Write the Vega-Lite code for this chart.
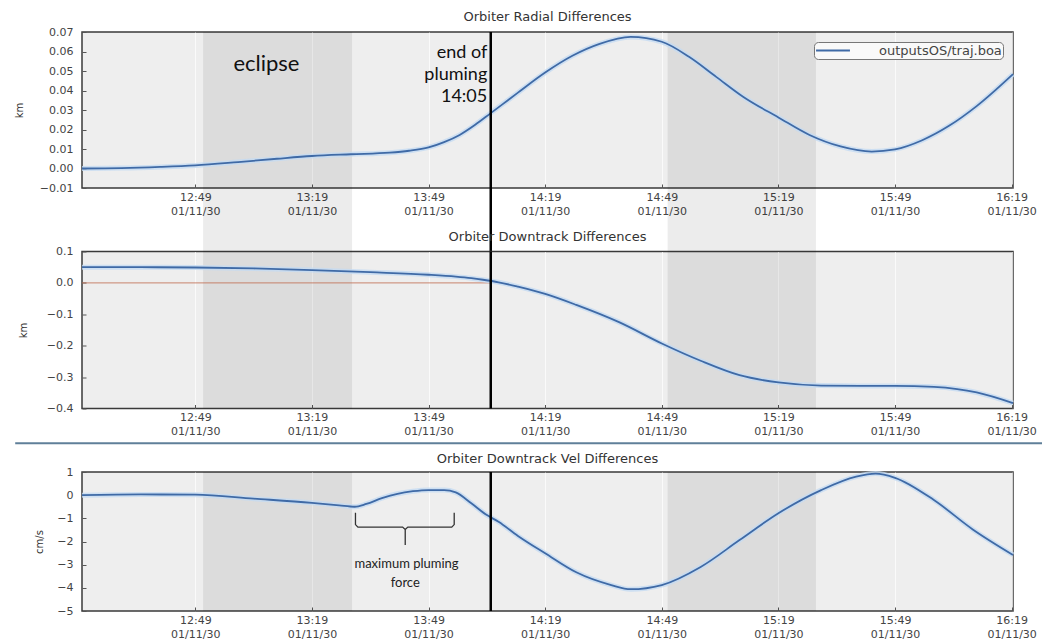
{
  "$schema": "https://vega.github.io/schema/vega-lite/v6.json",
  "padding": {"left": 13, "top": 10, "right": 0, "bottom": 0},
  "spacing": 63.5,
  "bounds": "flush",
  "datasets": {
    "radial": [
      {"t": "2030-01-11T12:19:51Z", "km": 0.0},
      {"t": "2030-01-11T12:30:00Z", "km": 0.0002},
      {"t": "2030-01-11T12:40:00Z", "km": 0.0008},
      {"t": "2030-01-11T12:49:00Z", "km": 0.0016},
      {"t": "2030-01-11T13:00:00Z", "km": 0.0033},
      {"t": "2030-01-11T13:10:00Z", "km": 0.005},
      {"t": "2030-01-11T13:19:00Z", "km": 0.0064},
      {"t": "2030-01-11T13:29:00Z", "km": 0.0073},
      {"t": "2030-01-11T13:39:00Z", "km": 0.0081},
      {"t": "2030-01-11T13:44:00Z", "km": 0.0091},
      {"t": "2030-01-11T13:49:00Z", "km": 0.0108},
      {"t": "2030-01-11T13:53:00Z", "km": 0.0135},
      {"t": "2030-01-11T13:57:00Z", "km": 0.0172},
      {"t": "2030-01-11T14:01:00Z", "km": 0.0224},
      {"t": "2030-01-11T14:05:00Z", "km": 0.0284},
      {"t": "2030-01-11T14:08:00Z", "km": 0.0329},
      {"t": "2030-01-11T14:12:00Z", "km": 0.0389},
      {"t": "2030-01-11T14:19:00Z", "km": 0.0492},
      {"t": "2030-01-11T14:26:00Z", "km": 0.0578},
      {"t": "2030-01-11T14:33:00Z", "km": 0.0639},
      {"t": "2030-01-11T14:41:00Z", "km": 0.0675},
      {"t": "2030-01-11T14:49:00Z", "km": 0.065},
      {"t": "2030-01-11T14:56:00Z", "km": 0.0573},
      {"t": "2030-01-11T15:03:00Z", "km": 0.047},
      {"t": "2030-01-11T15:10:00Z", "km": 0.0367},
      {"t": "2030-01-11T15:19:00Z", "km": 0.0262},
      {"t": "2030-01-11T15:27:00Z", "km": 0.0172},
      {"t": "2030-01-11T15:35:00Z", "km": 0.0113},
      {"t": "2030-01-11T15:43:00Z", "km": 0.0087},
      {"t": "2030-01-11T15:49:00Z", "km": 0.0098},
      {"t": "2030-01-11T15:56:00Z", "km": 0.0145},
      {"t": "2030-01-11T16:03:00Z", "km": 0.022},
      {"t": "2030-01-11T16:10:00Z", "km": 0.032},
      {"t": "2030-01-11T16:19:21Z", "km": 0.0484}
    ],
    "downtrack": [
      {"t": "2030-01-11T12:19:51Z", "km": 0.05},
      {"t": "2030-01-11T12:35:00Z", "km": 0.05},
      {"t": "2030-01-11T12:49:00Z", "km": 0.049},
      {"t": "2030-01-11T13:04:00Z", "km": 0.046},
      {"t": "2030-01-11T13:19:00Z", "km": 0.041},
      {"t": "2030-01-11T13:34:00Z", "km": 0.034},
      {"t": "2030-01-11T13:49:00Z", "km": 0.026},
      {"t": "2030-01-11T13:56:00Z", "km": 0.02},
      {"t": "2030-01-11T14:00:00Z", "km": 0.015},
      {"t": "2030-01-11T14:03:00Z", "km": 0.01},
      {"t": "2030-01-11T14:07:00Z", "km": 0.002},
      {"t": "2030-01-11T14:12:00Z", "km": -0.012},
      {"t": "2030-01-11T14:19:00Z", "km": -0.035},
      {"t": "2030-01-11T14:27:00Z", "km": -0.07},
      {"t": "2030-01-11T14:38:00Z", "km": -0.125},
      {"t": "2030-01-11T14:49:00Z", "km": -0.193},
      {"t": "2030-01-11T14:59:00Z", "km": -0.248},
      {"t": "2030-01-11T15:09:00Z", "km": -0.294},
      {"t": "2030-01-11T15:19:00Z", "km": -0.317},
      {"t": "2030-01-11T15:30:00Z", "km": -0.327},
      {"t": "2030-01-11T15:40:00Z", "km": -0.328},
      {"t": "2030-01-11T15:49:00Z", "km": -0.328},
      {"t": "2030-01-11T15:59:00Z", "km": -0.331},
      {"t": "2030-01-11T16:05:00Z", "km": -0.338},
      {"t": "2030-01-11T16:10:00Z", "km": -0.349},
      {"t": "2030-01-11T16:19:21Z", "km": -0.383}
    ],
    "vel": [
      {"t": "2030-01-11T12:19:51Z", "cms": 0.0},
      {"t": "2030-01-11T12:35:00Z", "cms": 0.03},
      {"t": "2030-01-11T12:49:00Z", "cms": 0.02},
      {"t": "2030-01-11T13:04:00Z", "cms": -0.15},
      {"t": "2030-01-11T13:19:00Z", "cms": -0.33},
      {"t": "2030-01-11T13:26:00Z", "cms": -0.44},
      {"t": "2030-01-11T13:30:00Z", "cms": -0.5},
      {"t": "2030-01-11T13:33:00Z", "cms": -0.38},
      {"t": "2030-01-11T13:37:00Z", "cms": -0.13},
      {"t": "2030-01-11T13:41:00Z", "cms": 0.06},
      {"t": "2030-01-11T13:45:00Z", "cms": 0.17},
      {"t": "2030-01-11T13:49:00Z", "cms": 0.22},
      {"t": "2030-01-11T13:53:00Z", "cms": 0.22},
      {"t": "2030-01-11T13:56:00Z", "cms": 0.12},
      {"t": "2030-01-11T14:00:00Z", "cms": -0.35},
      {"t": "2030-01-11T14:04:00Z", "cms": -0.86},
      {"t": "2030-01-11T14:07:00Z", "cms": -1.15},
      {"t": "2030-01-11T14:12:00Z", "cms": -1.76},
      {"t": "2030-01-11T14:19:00Z", "cms": -2.51},
      {"t": "2030-01-11T14:27:00Z", "cms": -3.33},
      {"t": "2030-01-11T14:36:00Z", "cms": -3.88},
      {"t": "2030-01-11T14:41:00Z", "cms": -4.06},
      {"t": "2030-01-11T14:49:00Z", "cms": -3.88},
      {"t": "2030-01-11T14:59:00Z", "cms": -3.1},
      {"t": "2030-01-11T15:09:00Z", "cms": -1.94},
      {"t": "2030-01-11T15:19:00Z", "cms": -0.78},
      {"t": "2030-01-11T15:30:00Z", "cms": 0.22},
      {"t": "2030-01-11T15:39:00Z", "cms": 0.8},
      {"t": "2030-01-11T15:44:00Z", "cms": 0.93},
      {"t": "2030-01-11T15:49:00Z", "cms": 0.75},
      {"t": "2030-01-11T15:59:00Z", "cms": -0.21},
      {"t": "2030-01-11T16:09:00Z", "cms": -1.48},
      {"t": "2030-01-11T16:19:21Z", "cms": -2.58}
    ],
    "eclipse": [
      {"start": "2030-01-11T12:51:00Z", "end": "2030-01-11T13:29:20Z"},
      {"start": "2030-01-11T14:50:30Z", "end": "2030-01-11T15:28:40Z"}
    ],
    "brace": [
      {"arm": "a", "i": 0, "t": "2030-01-11T13:30:12Z", "cms": -0.76},
      {"arm": "a", "i": 1, "t": "2030-01-11T13:30:12Z", "cms": -1.27},
      {"arm": "a", "i": 2, "t": "2030-01-11T13:30:50Z", "cms": -1.38},
      {"arm": "a", "i": 3, "t": "2030-01-11T13:42:20Z", "cms": -1.38},
      {"arm": "a", "i": 4, "t": "2030-01-11T13:43:00Z", "cms": -1.48},
      {"arm": "a", "i": 5, "t": "2030-01-11T13:43:00Z", "cms": -2.15},
      {"arm": "b", "i": 0, "t": "2030-01-11T13:55:36Z", "cms": -0.76},
      {"arm": "b", "i": 1, "t": "2030-01-11T13:55:36Z", "cms": -1.27},
      {"arm": "b", "i": 2, "t": "2030-01-11T13:54:58Z", "cms": -1.38},
      {"arm": "b", "i": 3, "t": "2030-01-11T13:43:40Z", "cms": -1.38},
      {"arm": "b", "i": 4, "t": "2030-01-11T13:43:00Z", "cms": -1.48}
    ]
  },
  "vconcat": [
    {
      "width": 931,
      "height": 156,
      "title": {"text": "Orbiter Radial Differences", "offset": 2},
      "layer": [
        {
          "data": {"name": "eclipse"},
          "mark": {"type": "rect", "color": "#000000", "opacity": 0.075},
          "encoding": {
            "x": {"field": "start", "type": "temporal"},
            "x2": {"field": "end"},
            "y": {"datum": 0.07},
            "y2": {"datum": -0.0426}
          }
        },
        {
          "data": {"name": "radial"},
          "mark": {"type": "line", "stroke": "#c4dbf2", "strokeWidth": 5, "opacity": 0.8, "interpolate": "monotone"},
          "encoding": {
            "x": {
              "field": "t", "type": "temporal",
              "scale": {"type": "utc", "domain": [
                {"year": 2030, "month": 1, "date": 11, "hours": 12, "minutes": 19, "seconds": 51, "utc": true},
                {"year": 2030, "month": 1, "date": 11, "hours": 16, "minutes": 19, "seconds": 21, "utc": true}]},
              "axis": {"title": null, "tickCount": 20, "values": [
                {"year": 2030, "month": 1, "date": 11, "hours": 12, "minutes": 49, "utc": true},
                {"year": 2030, "month": 1, "date": 11, "hours": 13, "minutes": 19, "utc": true},
                {"year": 2030, "month": 1, "date": 11, "hours": 13, "minutes": 49, "utc": true},
                {"year": 2030, "month": 1, "date": 11, "hours": 14, "minutes": 19, "utc": true},
                {"year": 2030, "month": 1, "date": 11, "hours": 14, "minutes": 49, "utc": true},
                {"year": 2030, "month": 1, "date": 11, "hours": 15, "minutes": 19, "utc": true},
                {"year": 2030, "month": 1, "date": 11, "hours": 15, "minutes": 49, "utc": true},
                {"year": 2030, "month": 1, "date": 11, "hours": 16, "minutes": 19, "utc": true}],
                "labelExpr": "[utcFormat(datum.value, '%H:%M'), utcFormat(datum.value, '%m/%d/%y')]"}
            },
            "y": {
              "field": "km", "type": "quantitative",
              "scale": {"domain": [-0.01, 0.07], "nice": false, "zero": false},
              "axis": {"title": "km", "titleX": -63, "tickCount": 20, "labelPadding": 13, "values": [-0.01, 0, 0.01, 0.02, 0.03, 0.04, 0.05, 0.06, 0.07], "format": ".2f"}
            }
          }
        },
        {
          "data": {"name": "radial"},
          "mark": {"type": "line", "strokeWidth": 1.8, "interpolate": "monotone"},
          "encoding": {
            "x": {"field": "t", "type": "temporal"},
            "y": {"field": "km", "type": "quantitative"},
            "color": {
              "datum": "outputsOS/traj.boa",
              "scale": {"range": ["#3f6aa6"]},
              "legend": {"title": null, "orient": "top-right", "offset": 10, "symbolType": "stroke", "symbolSize": 1150, "symbolStrokeWidth": 2, "labelFontSize": 13, "labelFont": "DejaVu Sans", "labelColor": "#444444", "labelOffset": 28, "padding": 1, "clipHeight": 15, "strokeColor": "#777777", "fillColor": "#f9f9f9", "cornerRadius": 4}
            }
          }
        },
        {
          "data": {"values": [{}]},
          "mark": {"type": "rule", "color": "#000000", "strokeWidth": 2.5},
          "encoding": {
            "x": {"datum": {"year": 2030, "month": 1, "date": 11, "hours": 14, "minutes": 5, "utc": true}, "type": "temporal"},
            "y": {"datum": 0.07},
            "y2": {"datum": -0.0426}
          }
        },
        {
          "data": {"values": [{}]},
          "mark": {"type": "text", "text": "eclipse", "font": "Lato", "fontSize": 22, "color": "#111111", "align": "center", "baseline": "middle"},
          "encoding": {
            "x": {"datum": {"year": 2030, "month": 1, "date": 11, "hours": 13, "minutes": 7, "seconds": 18, "utc": true}, "type": "temporal"},
            "y": {"datum": 0.0535}
          }
        },
        {
          "data": {"values": [{}]},
          "mark": {"type": "text", "text": ["end of", "pluming", "14:05"], "font": "Lato", "fontSize": 18, "lineHeight": 22, "color": "#111111", "align": "right", "baseline": "alphabetic"},
          "encoding": {
            "x": {"datum": {"year": 2030, "month": 1, "date": 11, "hours": 14, "minutes": 4, "seconds": 6, "utc": true}, "type": "temporal"},
            "y": {"datum": 0.0565}
          }
        }
      ]
    },
    {
      "width": 931,
      "height": 157,
      "title": {"text": "Orbiter Downtrack Differences", "offset": 2},
      "layer": [
        {
          "data": {"name": "eclipse"},
          "mark": {"type": "rect", "color": "#000000", "opacity": 0.075},
          "encoding": {
            "x": {"field": "start", "type": "temporal"},
            "x2": {"field": "end"},
            "y": {"datum": 0.1},
            "y2": {"datum": -0.4}
          }
        },
        {
          "data": {"values": [{}]},
          "mark": {"type": "rule", "color": "#c06a4c", "strokeWidth": 1, "opacity": 0.8},
          "encoding": {
            "x": {"datum": {"year": 2030, "month": 1, "date": 11, "hours": 12, "minutes": 19, "seconds": 51, "utc": true}, "type": "temporal"},
            "x2": {"datum": {"year": 2030, "month": 1, "date": 11, "hours": 14, "minutes": 5, "utc": true}},
            "y": {"datum": 0}
          }
        },
        {
          "data": {"name": "downtrack"},
          "mark": {"type": "line", "stroke": "#c4dbf2", "strokeWidth": 5, "opacity": 0.8, "interpolate": "monotone"},
          "encoding": {
            "x": {
              "field": "t", "type": "temporal",
              "scale": {"type": "utc", "domain": [
                {"year": 2030, "month": 1, "date": 11, "hours": 12, "minutes": 19, "seconds": 51, "utc": true},
                {"year": 2030, "month": 1, "date": 11, "hours": 16, "minutes": 19, "seconds": 21, "utc": true}]},
              "axis": {"title": null, "tickCount": 20, "values": [
                {"year": 2030, "month": 1, "date": 11, "hours": 12, "minutes": 49, "utc": true},
                {"year": 2030, "month": 1, "date": 11, "hours": 13, "minutes": 19, "utc": true},
                {"year": 2030, "month": 1, "date": 11, "hours": 13, "minutes": 49, "utc": true},
                {"year": 2030, "month": 1, "date": 11, "hours": 14, "minutes": 19, "utc": true},
                {"year": 2030, "month": 1, "date": 11, "hours": 14, "minutes": 49, "utc": true},
                {"year": 2030, "month": 1, "date": 11, "hours": 15, "minutes": 19, "utc": true},
                {"year": 2030, "month": 1, "date": 11, "hours": 15, "minutes": 49, "utc": true},
                {"year": 2030, "month": 1, "date": 11, "hours": 16, "minutes": 19, "utc": true}],
                "labelExpr": "[utcFormat(datum.value, '%H:%M'), utcFormat(datum.value, '%m/%d/%y')]"}
            },
            "y": {
              "field": "km", "type": "quantitative",
              "scale": {"domain": [-0.4, 0.1], "nice": false, "zero": false},
              "axis": {"title": "km", "titleX": -59, "tickCount": 20, "labelPadding": 13, "values": [-0.4, -0.3, -0.2, -0.1, 0, 0.1], "format": ".1f"}
            }
          }
        },
        {
          "data": {"name": "downtrack"},
          "mark": {"type": "line", "stroke": "#3f6aa6", "strokeWidth": 1.8, "interpolate": "monotone"},
          "encoding": {
            "x": {"field": "t", "type": "temporal"},
            "y": {"field": "km", "type": "quantitative"}
          }
        },
        {
          "data": {"values": [{}]},
          "mark": {"type": "rule", "color": "#000000", "strokeWidth": 2.5},
          "encoding": {
            "x": {"datum": {"year": 2030, "month": 1, "date": 11, "hours": 14, "minutes": 5, "utc": true}, "type": "temporal"},
            "y": {"datum": 0.1},
            "y2": {"datum": -0.4}
          }
        },
        {
          "data": {"values": [{}]},
          "mark": {"type": "rule", "color": "#5f7f99", "strokeWidth": 2},
          "encoding": {
            "x": {"datum": {"year": 2030, "month": 1, "date": 11, "hours": 12, "minutes": 2, "seconds": 40, "utc": true}, "type": "temporal"},
            "x2": {"datum": {"year": 2030, "month": 1, "date": 11, "hours": 16, "minutes": 27, "utc": true}},
            "y": {"datum": -0.5108}
          }
        }
      ]
    },
    {
      "width": 931,
      "height": 139,
      "title": {"text": "Orbiter Downtrack Vel Differences", "offset": -2},
      "layer": [
        {
          "data": {"name": "eclipse"},
          "mark": {"type": "rect", "color": "#000000", "opacity": 0.075},
          "encoding": {
            "x": {"field": "start", "type": "temporal"},
            "x2": {"field": "end"},
            "y": {"datum": 1},
            "y2": {"datum": -5}
          }
        },
        {
          "data": {"name": "vel"},
          "mark": {"type": "line", "stroke": "#c4dbf2", "strokeWidth": 5, "opacity": 0.8, "interpolate": "monotone"},
          "encoding": {
            "x": {
              "field": "t", "type": "temporal",
              "scale": {"type": "utc", "domain": [
                {"year": 2030, "month": 1, "date": 11, "hours": 12, "minutes": 19, "seconds": 51, "utc": true},
                {"year": 2030, "month": 1, "date": 11, "hours": 16, "minutes": 19, "seconds": 21, "utc": true}]},
              "axis": {"title": null, "tickCount": 20, "values": [
                {"year": 2030, "month": 1, "date": 11, "hours": 12, "minutes": 49, "utc": true},
                {"year": 2030, "month": 1, "date": 11, "hours": 13, "minutes": 19, "utc": true},
                {"year": 2030, "month": 1, "date": 11, "hours": 13, "minutes": 49, "utc": true},
                {"year": 2030, "month": 1, "date": 11, "hours": 14, "minutes": 19, "utc": true},
                {"year": 2030, "month": 1, "date": 11, "hours": 14, "minutes": 49, "utc": true},
                {"year": 2030, "month": 1, "date": 11, "hours": 15, "minutes": 19, "utc": true},
                {"year": 2030, "month": 1, "date": 11, "hours": 15, "minutes": 49, "utc": true},
                {"year": 2030, "month": 1, "date": 11, "hours": 16, "minutes": 19, "utc": true}],
                "labelExpr": "[utcFormat(datum.value, '%H:%M'), utcFormat(datum.value, '%m/%d/%y')]"}
            },
            "y": {
              "field": "cms", "type": "quantitative",
              "scale": {"domain": [-5, 1], "nice": false, "zero": false},
              "axis": {"title": "cm/s", "titleX": -43, "tickCount": 20, "labelPadding": 13, "values": [-5, -4, -3, -2, -1, 0, 1], "format": "d"}
            }
          }
        },
        {
          "data": {"name": "vel"},
          "mark": {"type": "line", "stroke": "#3f6aa6", "strokeWidth": 1.8, "interpolate": "monotone"},
          "encoding": {
            "x": {"field": "t", "type": "temporal"},
            "y": {"field": "cms", "type": "quantitative"}
          }
        },
        {
          "data": {"values": [{}]},
          "mark": {"type": "rule", "color": "#000000", "strokeWidth": 2.5},
          "encoding": {
            "x": {"datum": {"year": 2030, "month": 1, "date": 11, "hours": 14, "minutes": 5, "utc": true}, "type": "temporal"},
            "y": {"datum": 1},
            "y2": {"datum": -5}
          }
        },
        {
          "data": {"name": "brace"},
          "mark": {"type": "line", "stroke": "#333333", "strokeWidth": 1.3},
          "encoding": {
            "x": {"field": "t", "type": "temporal"},
            "y": {"field": "cms", "type": "quantitative"},
            "detail": {"field": "arm"},
            "order": {"field": "i"}
          }
        },
        {
          "data": {"values": [{}]},
          "mark": {"type": "text", "text": "maximum pluming", "font": "Lato", "fontSize": 13, "color": "#222222", "align": "center", "baseline": "middle"},
          "encoding": {
            "x": {"datum": {"year": 2030, "month": 1, "date": 11, "hours": 13, "minutes": 43, "seconds": 20, "utc": true}, "type": "temporal"},
            "y": {"datum": -2.97}
          }
        },
        {
          "data": {"values": [{}]},
          "mark": {"type": "text", "text": "force", "font": "Lato", "fontSize": 13, "color": "#222222", "align": "center", "baseline": "middle"},
          "encoding": {
            "x": {"datum": {"year": 2030, "month": 1, "date": 11, "hours": 13, "minutes": 43, "utc": true}, "type": "temporal"},
            "y": {"datum": -3.78}
          }
        }
      ]
    }
  ],
  "config": {
    "font": "DejaVu Sans",
    "view": {"fill": "#eeeeee", "stroke": "#3a3a3a", "strokeWidth": 1.5},
    "axis": {
      "labelFont": "DejaVu Sans",
      "labelFontSize": 11,
      "labelColor": "#444444",
      "labelLineHeight": 14,
      "labelPadding": 7,
      "labelOverlap": false,
      "titleFont": "DejaVu Sans",
      "titleFontSize": 10,
      "titleFontWeight": "normal",
      "titleColor": "#333333",
      "titleBaseline": "middle",
      "domain": false,
      "tickColor": "#555555",
      "tickSize": -4,
      "gridColor": "#ffffff",
      "gridOpacity": 0.7,
      "zindex": 1
    },
    "title": {"font": "DejaVu Sans", "fontSize": 13, "fontWeight": "normal", "color": "#333333", "frame": "group"}
  }
}
